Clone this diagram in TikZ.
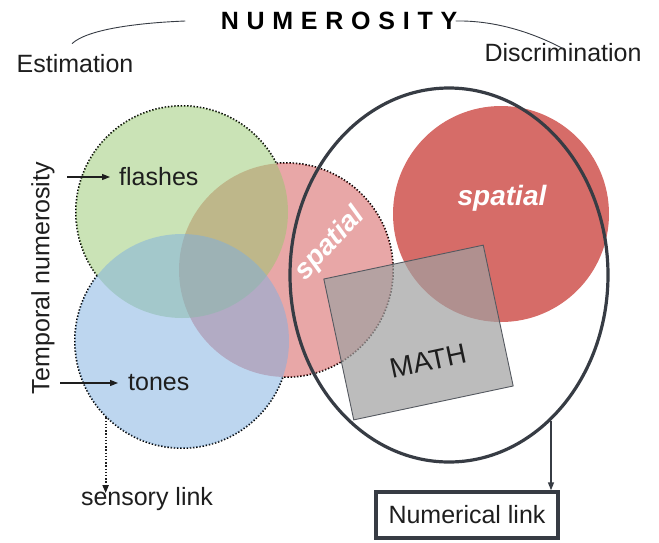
\documentclass[tikz,border=0pt]{standalone}
\usepackage{fontspec}
\setmainfont{Liberation Sans}
\newfontfamily\titlefont[LetterSpace=31]{Liberation Sans}
\usepackage{tikz}
\usetikzlibrary{positioning,calc,arrows.meta,shapes.geometric}
\definecolor{flashgreen}{RGB}{150,200,110}
\definecolor{toneblue}{RGB}{125,175,225}
\definecolor{spatpink}{RGB}{210,80,80}
\definecolor{spatred}{RGB}{214,108,104}
\definecolor{mathgray}{RGB}{160,160,160}
\definecolor{inkdark}{RGB}{55,60,68}
\definecolor{txtgray}{RGB}{30,30,30}

\begin{document}
\begin{tikzpicture}[x=1pt,y=-1pt,
  blob/.style={circle,inner sep=0pt,minimum size=#1,draw=black,line width=2pt,
               dash pattern=on 1.5pt off 1.7pt},
  lbl/.style={font=\fontsize{25}{28}\selectfont,text=txtgray,inner sep=1pt},
  big/.style={font=\fontsize{28}{32}\selectfont\bfseries\itshape,text=white,inner sep=1pt},
  arr/.style={-{Triangle[length=8pt,width=6pt]},line width=1.1pt,color=txtgray}]
  \useasboundingbox (0,0) rectangle (659,542);
  % dotted outlines first, then the interiors are cleared
  \node[blob=214pt] (spat)  at (286,270) {};
  \node[blob=212pt] (flash) at (182,212) {};
  \node[blob=214pt] (tone)  at (182,341) {};
  \foreach \c/\r in {spat/106,flash/105,tone/106}
    \fill[white] (\c.center) circle (\r);
  \fill[spatpink,fill opacity=0.5]   (spat.center)  circle (107);
  \fill[flashgreen,fill opacity=0.5] (flash.center) circle (106);
  \fill[toneblue,fill opacity=0.5]   (tone.center)  circle (107);
  \node[circle,inner sep=0pt,minimum size=216pt,fill=spatred] (spatR) at (501,214) {};
  \node[big] (spatRlbl) at (502,198) {spatial};
  \node[big,rotate=47] (spatLlbl) at (330,244) {spatial};
  % math square
  \node[draw=inkdark!85,line width=0.9pt,fill=mathgray,fill opacity=0.7,rotate=12,
        minimum width=163pt,minimum height=144pt,inner sep=0pt] (mathsq) at (418.5,332.5) {};
  \node[lbl,rotate=12,font=\fontsize{28}{30}\selectfont] (mathlbl) at (428,361) {MATH};
  % big ellipse
  \node[ellipse,draw=inkdark,line width=3.2pt,minimum width=318pt,minimum height=374pt,
        inner sep=0pt] (ring) at (449,275) {};
  % texts
  \node[font=\titlefont\bfseries\fontsize{25}{27}\selectfont] (title) at (339,21) {NUMEROSITY};
  \node[lbl] (est)  at (75,64)  {Estimation};
  \node[lbl] (disc) at (563,53) {Discrimination};
  \node[lbl,rotate=90] (temporal) at (43,278) {Temporal numerosity};
  \node[lbl,anchor=west] (flashlbl) at (118,177) {flashes};
  \node[lbl,anchor=west] (tonelbl)  at (127,383) {tones};
  \node[lbl] (sens) at (147,499) {sensory link};
  \node[lbl,draw=inkdark,line width=3.4pt,minimum width=182pt,minimum height=46pt,
        inner sep=0pt] (numlink) at (467,515) {Numerical link};
  % connectors
  \draw[inkdark,line width=0.9pt] ([shift={(-3,-10)}]est.north)
    .. controls +(15,-14) and +(-50,2) .. ([xshift=-32]title.west);
  \draw[inkdark,line width=0.9pt] ([xshift=-5]title.east)
    .. controls +(50,-1) and +(-15,-8) .. ([yshift=-6]disc.north);
  \draw[arr] ([xshift=-51]flashlbl.west) -- ([xshift=-8]flashlbl.west);
  \draw[arr] ([xshift=-67]tonelbl.west) -- ([xshift=-9]tonelbl.west);
  \draw[arr,dash pattern=on 1.5pt off 1.7pt,line width=1.8pt]
    (tone.225.8) -- ([yshift=-7]tone.225.8 |- sens.north);
  \draw[arr,color=inkdark,line width=1.4pt] (ring.-55.4) -- (ring.-55.4 |- numlink.north);
\end{tikzpicture}
\end{document}
